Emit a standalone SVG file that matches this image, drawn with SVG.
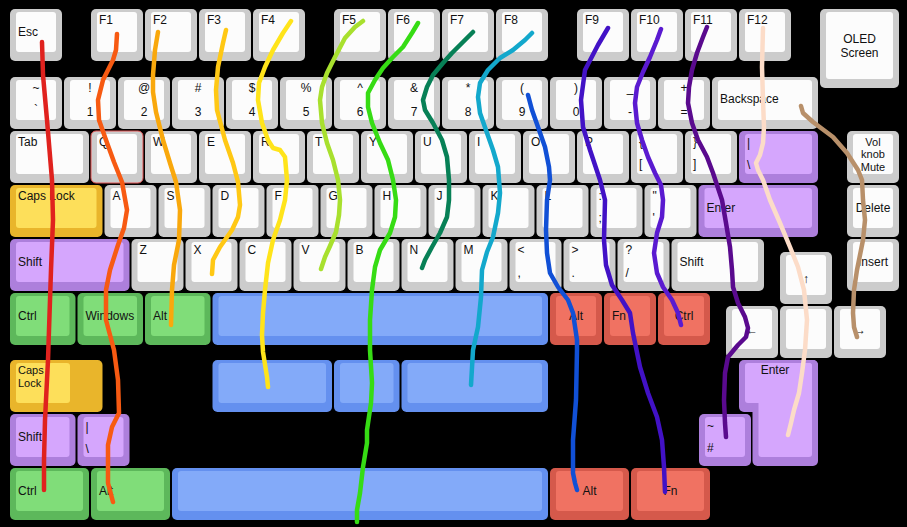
<svg xmlns="http://www.w3.org/2000/svg" width="907" height="527" viewBox="0 0 907 527">
<style>
text{font-family:"Liberation Sans",Arial,sans-serif;font-size:12px;fill:#111}
.c{text-anchor:middle}
.s{font-size:11px}
.o{rx:5px}
.i{rx:3px}
.gy .o{fill:#cccccc}.gy .i{fill:#fcfcfc}
.pu .o{fill:#ad7fdc}.pu .i{fill:#d5a6fd}
.ye .o{fill:#e9b52b}.ye .i{fill:#fddf5a}
.gr .o{fill:#5db85b}.gr .i{fill:#80dd79}
.bl .o{fill:#6490ef}.bl .i{fill:#83aaf9}
.rd .o{fill:#d5594b}.rd .i{fill:#f07262}
.ln{fill:none;stroke-width:4.5;stroke-linecap:round;stroke-linejoin:round}
</style>
<rect width="907" height="527" fill="#000"/>
<g id="keys">
<g id="k-esc" class="gy"><rect class="o" x="10" y="9" width="52" height="52"/><rect class="i" x="16" y="12" width="40" height="40"/><text x="18" y="36">Esc</text></g>
<g id="k-f1" class="gy"><rect class="o" x="91" y="9" width="52" height="52"/><rect class="i" x="97" y="12" width="40" height="40"/><text x="99" y="24">F1</text></g>
<g id="k-f2" class="gy"><rect class="o" x="145" y="9" width="52" height="52"/><rect class="i" x="151" y="12" width="40" height="40"/><text x="153" y="24">F2</text></g>
<g id="k-f3" class="gy"><rect class="o" x="199" y="9" width="52" height="52"/><rect class="i" x="205" y="12" width="40" height="40"/><text x="207" y="24">F3</text></g>
<g id="k-f4" class="gy"><rect class="o" x="253" y="9" width="52" height="52"/><rect class="i" x="259" y="12" width="40" height="40"/><text x="261" y="24">F4</text></g>
<g id="k-f5" class="gy"><rect class="o" x="334" y="9" width="52" height="52"/><rect class="i" x="340" y="12" width="40" height="40"/><text x="342" y="24">F5</text></g>
<g id="k-f6" class="gy"><rect class="o" x="388" y="9" width="52" height="52"/><rect class="i" x="394" y="12" width="40" height="40"/><text x="396" y="24">F6</text></g>
<g id="k-f7" class="gy"><rect class="o" x="442" y="9" width="52" height="52"/><rect class="i" x="448" y="12" width="40" height="40"/><text x="450" y="24">F7</text></g>
<g id="k-f8" class="gy"><rect class="o" x="496" y="9" width="52" height="52"/><rect class="i" x="502" y="12" width="40" height="40"/><text x="504" y="24">F8</text></g>
<g id="k-f9" class="gy"><rect class="o" x="577" y="9" width="52" height="52"/><rect class="i" x="583" y="12" width="40" height="40"/><text x="585" y="24">F9</text></g>
<g id="k-f10" class="gy"><rect class="o" x="631" y="9" width="52" height="52"/><rect class="i" x="637" y="12" width="40" height="40"/><text x="639" y="24">F10</text></g>
<g id="k-f11" class="gy"><rect class="o" x="685" y="9" width="52" height="52"/><rect class="i" x="691" y="12" width="40" height="40"/><text x="693" y="24">F11</text></g>
<g id="k-f12" class="gy"><rect class="o" x="739" y="9" width="52" height="52"/><rect class="i" x="745" y="12" width="40" height="40"/><text x="747" y="24">F12</text></g>
<g id="k-oled" class="gy"><rect class="o" x="820" y="9" width="79" height="79"/><rect class="i" x="826" y="12" width="67" height="67"/><text class="c" x="859.5" y="43">OLED</text><text class="c" x="859.5" y="57">Screen</text></g>

<g id="k-tilde" class="gy"><rect class="o" x="10" y="77" width="52" height="52"/><rect class="i" x="16" y="80" width="40" height="40"/><text class="c" x="36" y="92">~</text><text class="c" x="36" y="114">`</text></g>
<g id="k-1" class="gy"><rect class="o" x="64" y="77" width="52" height="52"/><rect class="i" x="70" y="80" width="40" height="40"/><text class="c" x="90" y="92">!</text><text class="c" x="90" y="116">1</text></g>
<g id="k-2" class="gy"><rect class="o" x="118" y="77" width="52" height="52"/><rect class="i" x="124" y="80" width="40" height="40"/><text class="c" x="144" y="92">@</text><text class="c" x="144" y="116">2</text></g>
<g id="k-3" class="gy"><rect class="o" x="172" y="77" width="52" height="52"/><rect class="i" x="178" y="80" width="40" height="40"/><text class="c" x="198" y="92">#</text><text class="c" x="198" y="116">3</text></g>
<g id="k-4" class="gy"><rect class="o" x="226" y="77" width="52" height="52"/><rect class="i" x="232" y="80" width="40" height="40"/><text class="c" x="252" y="92">$</text><text class="c" x="252" y="116">4</text></g>
<g id="k-5" class="gy"><rect class="o" x="280" y="77" width="52" height="52"/><rect class="i" x="286" y="80" width="40" height="40"/><text class="c" x="306" y="92">%</text><text class="c" x="306" y="116">5</text></g>
<g id="k-6" class="gy"><rect class="o" x="334" y="77" width="52" height="52"/><rect class="i" x="340" y="80" width="40" height="40"/><text class="c" x="360" y="92">^</text><text class="c" x="360" y="116">6</text></g>
<g id="k-7" class="gy"><rect class="o" x="388" y="77" width="52" height="52"/><rect class="i" x="394" y="80" width="40" height="40"/><text class="c" x="414" y="92">&amp;</text><text class="c" x="414" y="116">7</text></g>
<g id="k-8" class="gy"><rect class="o" x="442" y="77" width="52" height="52"/><rect class="i" x="448" y="80" width="40" height="40"/><text class="c" x="468" y="92">*</text><text class="c" x="468" y="116">8</text></g>
<g id="k-9" class="gy"><rect class="o" x="496" y="77" width="52" height="52"/><rect class="i" x="502" y="80" width="40" height="40"/><text class="c" x="522" y="92">(</text><text class="c" x="522" y="116">9</text></g>
<g id="k-0" class="gy"><rect class="o" x="550" y="77" width="52" height="52"/><rect class="i" x="556" y="80" width="40" height="40"/><text class="c" x="576" y="92">)</text><text class="c" x="576" y="116">0</text></g>
<g id="k-minus" class="gy"><rect class="o" x="604" y="77" width="52" height="52"/><rect class="i" x="610" y="80" width="40" height="40"/><text class="c" x="630" y="92">_</text><text class="c" x="630" y="116">-</text></g>
<g id="k-equal" class="gy"><rect class="o" x="658" y="77" width="52" height="52"/><rect class="i" x="664" y="80" width="40" height="40"/><text class="c" x="684" y="92">+</text><text class="c" x="684" y="116">=</text></g>
<g id="k-backspace" class="gy"><rect class="o" x="712" y="77" width="106" height="52"/><rect class="i" x="718" y="80" width="94" height="40"/><text x="720" y="103">Backspace</text></g>

<g id="k-tab" class="gy"><rect class="o" x="10" y="131" width="79" height="52"/><rect class="i" x="16" y="134" width="67" height="40"/><text x="18" y="146">Tab</text></g>
<g id="k-q" class="gy"><rect class="o" x="91" y="131" width="52" height="52" stroke="#e05252" stroke-width="1"/><rect class="i" x="97" y="134" width="40" height="40"/><text x="99" y="146">Q</text></g>
<g id="k-w" class="gy"><rect class="o" x="145" y="131" width="52" height="52"/><rect class="i" x="151" y="134" width="40" height="40"/><text x="153" y="146">W</text></g>
<g id="k-e" class="gy"><rect class="o" x="199" y="131" width="52" height="52"/><rect class="i" x="205" y="134" width="40" height="40"/><text x="207" y="146">E</text></g>
<g id="k-r" class="gy"><rect class="o" x="253" y="131" width="52" height="52"/><rect class="i" x="259" y="134" width="40" height="40"/><text x="261" y="146">R</text></g>
<g id="k-t" class="gy"><rect class="o" x="307" y="131" width="52" height="52"/><rect class="i" x="313" y="134" width="40" height="40"/><text x="315" y="146">T</text></g>
<g id="k-y" class="gy"><rect class="o" x="361" y="131" width="52" height="52"/><rect class="i" x="367" y="134" width="40" height="40"/><text x="369" y="146">Y</text></g>
<g id="k-u" class="gy"><rect class="o" x="415" y="131" width="52" height="52"/><rect class="i" x="421" y="134" width="40" height="40"/><text x="423" y="146">U</text></g>
<g id="k-i" class="gy"><rect class="o" x="469" y="131" width="52" height="52"/><rect class="i" x="475" y="134" width="40" height="40"/><text x="477" y="146">I</text></g>
<g id="k-o" class="gy"><rect class="o" x="523" y="131" width="52" height="52"/><rect class="i" x="529" y="134" width="40" height="40"/><text x="531" y="146">O</text></g>
<g id="k-p" class="gy"><rect class="o" x="577" y="131" width="52" height="52"/><rect class="i" x="583" y="134" width="40" height="40"/><text x="585" y="146">P</text></g>
<g id="k-lbracket" class="gy"><rect class="o" x="631" y="131" width="52" height="52"/><rect class="i" x="637" y="134" width="40" height="40"/><text x="639" y="146">{</text><text x="639" y="168">[</text></g>
<g id="k-rbracket" class="gy"><rect class="o" x="685" y="131" width="52" height="52"/><rect class="i" x="691" y="134" width="40" height="40"/><text x="693" y="146">}</text><text x="693" y="168">]</text></g>
<g id="k-backslash" class="pu"><rect class="o" x="739" y="131" width="79" height="52"/><rect class="i" x="745" y="134" width="67" height="40"/><text x="747" y="147">|</text><text x="747" y="169">\</text></g>
<g id="k-vol" class="gy"><rect class="o" x="847" y="131" width="52" height="52"/><rect class="i" x="853" y="134" width="40" height="40"/><text class="c s" x="873" y="145.5">Vol</text><text class="c s" x="873" y="158.2">knob</text><text class="c s" x="873" y="170.9">Mute</text></g>

<g id="k-caps" class="ye"><rect class="o" x="10" y="185" width="92.5" height="52"/><rect class="i" x="16" y="188" width="80.5" height="40"/><text x="18" y="200">Caps Lock</text></g>
<g id="k-a" class="gy"><rect class="o" x="104.5" y="185" width="52" height="52"/><rect class="i" x="110.5" y="188" width="40" height="40"/><text x="112.5" y="200">A</text></g>
<g id="k-s" class="gy"><rect class="o" x="158.5" y="185" width="52" height="52"/><rect class="i" x="164.5" y="188" width="40" height="40"/><text x="166.5" y="200">S</text></g>
<g id="k-d" class="gy"><rect class="o" x="212.5" y="185" width="52" height="52"/><rect class="i" x="218.5" y="188" width="40" height="40"/><text x="220.5" y="200">D</text></g>
<g id="k-f" class="gy"><rect class="o" x="266.5" y="185" width="52" height="52"/><rect class="i" x="272.5" y="188" width="40" height="40"/><text x="274.5" y="200">F</text></g>
<g id="k-g" class="gy"><rect class="o" x="320.5" y="185" width="52" height="52"/><rect class="i" x="326.5" y="188" width="40" height="40"/><text x="328.5" y="200">G</text></g>
<g id="k-h" class="gy"><rect class="o" x="374.5" y="185" width="52" height="52"/><rect class="i" x="380.5" y="188" width="40" height="40"/><text x="382.5" y="200">H</text></g>
<g id="k-j" class="gy"><rect class="o" x="428.5" y="185" width="52" height="52"/><rect class="i" x="434.5" y="188" width="40" height="40"/><text x="436.5" y="200">J</text></g>
<g id="k-k" class="gy"><rect class="o" x="482.5" y="185" width="52" height="52"/><rect class="i" x="488.5" y="188" width="40" height="40"/><text x="490.5" y="200">K</text></g>
<g id="k-l" class="gy"><rect class="o" x="536.5" y="185" width="52" height="52"/><rect class="i" x="542.5" y="188" width="40" height="40"/><text x="544.5" y="200">L</text></g>
<g id="k-semicolon" class="gy"><rect class="o" x="590.5" y="185" width="52" height="52"/><rect class="i" x="596.5" y="188" width="40" height="40"/><text x="598.5" y="200">:</text><text x="598.5" y="222">;</text></g>
<g id="k-quote" class="gy"><rect class="o" x="644.5" y="185" width="52" height="52"/><rect class="i" x="650.5" y="188" width="40" height="40"/><text x="652.5" y="200">"</text><text x="652.5" y="222">'</text></g>
<g id="k-enter" class="pu"><rect class="o" x="698.5" y="185" width="119.5" height="52"/><rect class="i" x="704.5" y="188" width="107.5" height="40"/><text x="706.5" y="212">Enter</text></g>
<g id="k-delete" class="gy"><rect class="o" x="847" y="185" width="52" height="52"/><rect class="i" x="853" y="188" width="40" height="40"/><text class="c" x="873" y="212">Delete</text></g>

<g id="k-lshift" class="pu"><rect class="o" x="10" y="239" width="119.5" height="52"/><rect class="i" x="16" y="242" width="107.5" height="40"/><text x="18" y="266">Shift</text></g>
<g id="k-z" class="gy"><rect class="o" x="131.5" y="239" width="52" height="52"/><rect class="i" x="137.5" y="242" width="40" height="40"/><text x="139.5" y="254">Z</text></g>
<g id="k-x" class="gy"><rect class="o" x="185.5" y="239" width="52" height="52"/><rect class="i" x="191.5" y="242" width="40" height="40"/><text x="193.5" y="254">X</text></g>
<g id="k-c" class="gy"><rect class="o" x="239.5" y="239" width="52" height="52"/><rect class="i" x="245.5" y="242" width="40" height="40"/><text x="247.5" y="254">C</text></g>
<g id="k-v" class="gy"><rect class="o" x="293.5" y="239" width="52" height="52"/><rect class="i" x="299.5" y="242" width="40" height="40"/><text x="301.5" y="254">V</text></g>
<g id="k-b" class="gy"><rect class="o" x="347.5" y="239" width="52" height="52"/><rect class="i" x="353.5" y="242" width="40" height="40"/><text x="355.5" y="254">B</text></g>
<g id="k-n" class="gy"><rect class="o" x="401.5" y="239" width="52" height="52"/><rect class="i" x="407.5" y="242" width="40" height="40"/><text x="409.5" y="254">N</text></g>
<g id="k-m" class="gy"><rect class="o" x="455.5" y="239" width="52" height="52"/><rect class="i" x="461.5" y="242" width="40" height="40"/><text x="463.5" y="254">M</text></g>
<g id="k-comma" class="gy"><rect class="o" x="509.5" y="239" width="52" height="52"/><rect class="i" x="515.5" y="242" width="40" height="40"/><text x="517.5" y="254">&lt;</text><text x="517.5" y="277">,</text></g>
<g id="k-period" class="gy"><rect class="o" x="563.5" y="239" width="52" height="52"/><rect class="i" x="569.5" y="242" width="40" height="40"/><text x="571.5" y="254">&gt;</text><text x="571.5" y="277">.</text></g>
<g id="k-slash" class="gy"><rect class="o" x="617.5" y="239" width="52" height="52"/><rect class="i" x="623.5" y="242" width="40" height="40"/><text x="625.5" y="254">?</text><text x="625.5" y="277">/</text></g>
<g id="k-rshift" class="gy"><rect class="o" x="671.5" y="239" width="92.5" height="52"/><rect class="i" x="677.5" y="242" width="80.5" height="40"/><text x="679.5" y="266">Shift</text></g>
<g id="k-up" class="gy"><rect class="o" x="780" y="252" width="52" height="52"/><rect class="i" x="786" y="255" width="40" height="40"/><text class="c" x="806" y="283">↑</text></g>
<g id="k-insert" class="gy"><rect class="o" x="847" y="239" width="52" height="52"/><rect class="i" x="853" y="242" width="40" height="40"/><text class="c" x="873" y="266">Insert</text></g>

<g id="k-lctrl" class="gr"><rect class="o" x="10" y="293" width="65.5" height="52"/><rect class="i" x="16" y="296" width="53.5" height="40"/><text x="18" y="320">Ctrl</text></g>
<g id="k-win" class="gr"><rect class="o" x="77.5" y="293" width="65.5" height="52"/><rect class="i" x="83.5" y="296" width="53.5" height="40"/><text x="85.5" y="320">Windows</text></g>
<g id="k-lalt" class="gr"><rect class="o" x="145" y="293" width="65.5" height="52"/><rect class="i" x="151" y="296" width="53.5" height="40"/><text x="153" y="320">Alt</text></g>
<g id="k-space" class="bl"><rect class="o" x="212.5" y="293" width="335.5" height="52"/><rect class="i" x="218.5" y="296" width="323.5" height="40"/></g>
<g id="k-ralt" class="rd"><rect class="o" x="550" y="293" width="52" height="52"/><rect class="i" x="556" y="296" width="40" height="40"/><text class="c" x="576" y="320">Alt</text></g>
<g id="k-fn" class="rd"><rect class="o" x="604" y="293" width="52" height="52"/><rect class="i" x="610" y="296" width="40" height="40"/><text x="612" y="320">Fn</text></g>
<g id="k-rctrl" class="rd"><rect class="o" x="658" y="293" width="52" height="52"/><rect class="i" x="664" y="296" width="40" height="40"/><text class="c" x="684" y="320">Ctrl</text></g>
<g id="k-left" class="gy"><rect class="o" x="726" y="306" width="52" height="52"/><rect class="i" x="732" y="309" width="40" height="40"/><text class="c" x="752" y="334">←</text></g>
<g id="k-down" class="gy"><rect class="o" x="780" y="306" width="52" height="52"/><rect class="i" x="786" y="309" width="40" height="40"/><text class="c" x="806" y="334">↓</text></g>
<g id="k-right" class="gy"><rect class="o" x="834" y="306" width="52" height="52"/><rect class="i" x="840" y="309" width="40" height="40"/><text class="c" x="860" y="334">→</text></g>

<g id="k-caps2" class="ye"><rect class="o" x="10" y="360" width="92.5" height="52"/><rect class="i" x="16" y="363" width="54" height="40"/><text class="s" x="18" y="374">Caps</text><text class="s" x="18" y="386.7">Lock</text></g>
<g id="k-space2a" class="bl"><rect class="o" x="212.5" y="360" width="119.5" height="52"/><rect class="i" x="218.5" y="363" width="107.5" height="40"/></g>
<g id="k-space2b" class="bl"><rect class="o" x="334" y="360" width="65.5" height="52"/><rect class="i" x="340" y="363" width="53.5" height="40"/></g>
<g id="k-space2c" class="bl"><rect class="o" x="401.5" y="360" width="146.5" height="52"/><rect class="i" x="407.5" y="363" width="134.5" height="40"/></g>
<g id="k-isoenter" class="pu"><rect class="o" x="739" y="360" width="79" height="52"/><rect class="o" x="752.5" y="360" width="65.5" height="106"/><rect class="i" x="745" y="363" width="67" height="40"/><rect class="i" x="758.5" y="363" width="53.5" height="94"/><text class="c" x="775" y="374">Enter</text></g>
<g id="k-lshift2" class="pu"><rect class="o" x="10" y="414" width="65.5" height="52"/><rect class="i" x="16" y="417" width="53.5" height="40"/><text x="18" y="441">Shift</text></g>
<g id="k-iso-bslash" class="pu"><rect class="o" x="77.5" y="414" width="52" height="52"/><rect class="i" x="83.5" y="417" width="40" height="40"/><text x="85.5" y="431">|</text><text x="85.5" y="453">\</text></g>
<g id="k-hash" class="pu"><rect class="o" x="699" y="414" width="52" height="52"/><rect class="i" x="705" y="417" width="40" height="40"/><text x="707" y="430">~</text><text x="707" y="452">#</text></g>
<g id="k-lctrl2" class="gr"><rect class="o" x="10" y="468" width="79" height="52"/><rect class="i" x="16" y="471" width="67" height="40"/><text x="18" y="495">Ctrl</text></g>
<g id="k-lalt2" class="gr"><rect class="o" x="91" y="468" width="79" height="52"/><rect class="i" x="97" y="471" width="67" height="40"/><text x="99" y="495">Alt</text></g>
<g id="k-space3" class="bl"><rect class="o" x="172" y="468" width="376" height="52"/><rect class="i" x="178" y="471" width="364" height="40"/></g>
<g id="k-ralt2" class="rd"><rect class="o" x="550" y="468" width="79" height="52"/><rect class="i" x="556" y="471" width="67" height="40"/><text class="c" x="589.5" y="495">Alt</text></g>
<g id="k-fn2" class="rd"><rect class="o" x="631" y="468" width="79" height="52"/><rect class="i" x="637" y="471" width="67" height="40"/><text class="c" x="670.5" y="495">Fn</text></g>
</g>
<g id="connectors">
<polyline class="ln" stroke="#e0221e" points="42,42 43,75 47,120 52,180 53,220 51,270 49,330 48,360 45,420 44,460 44,490"/>
<polyline class="ln" stroke="#f75a12" points="117,34 116,50 113,60 103,80 98,100 99,120 106,140 114,162 122,182 127,210 124,228 118,245 110,270 106,290 106,320 110,335 114,350 118,380 119,413 112,427 108,445 108,483 113,502"/>
<polyline class="ln" stroke="#f9a80c" points="158,32 155,50 153,75 153,92 156,112 163,140 170,163 176,182 180,210 179,240 174,265 172,290 171,325"/>
<polyline class="ln" stroke="#ffc814" points="226,30 223,43 218,67 216,90 217,110 225,140 233,163 238,182 240,205 238,217 232,230 220,247 213,260 212,274"/>
<polyline class="ln" stroke="#ffe41a" points="291,21 283,33 273,50 265,67 259,83 258,100 262,123 268,140 273,148 280,150 285,157 287,180 285,200 280,220 273,240 268,263 265,290 263,313 262,335 263,352 267,377 268,387"/>
<polyline class="ln" stroke="#a8e02e" points="363,21 355,27 345,38 335,57 327,73 322,87 320,100 322,123 327,143 333,160 338,180 340,200 339,215 336,232 330,246 325,257 321,269"/>
<polyline class="ln" stroke="#36dc14" points="418,23 412,33 403,47 393,57 383,68 375,80 368,93 368,107 372,123 380,143 388,160 393,180 396,200 395,217 390,233 380,250 375,267 372,290 370,320 370,350 372,383 371,403 367,430 367,443 363,467 360,493 357,510 357,522"/>
<polyline class="ln" stroke="#078056" points="473,32 463,42 452,53 443,63 433,75 427,87 423,100 425,110 433,123 442,140 447,157 449,180 449,200 447,217 440,233 432,247 425,260 422,268"/>
<polyline class="ln" stroke="#13a8cc" points="532,33 525,40 513,50 500,58 488,70 480,83 478,97 480,113 487,133 493,150 498,167 499,180 500,193 498,213 493,237 487,252 482,270 481,297 478,327 473,350 471,385"/>
<polyline class="ln" stroke="#1150d6" points="528,95 532,110 538,127 545,147 549,167 550,180 547,200 546,230 547,253 550,273 558,287 568,300 573,313 577,340 577,350 576,400 573,440 573,473 575,483 577,490"/>
<polyline class="ln" stroke="#4212c6" points="608,28 598,45 585,70 581,100 583,127 590,150 600,180 605,200 604,240 606,265 612,285 622,300 630,313 633,333 640,367 648,393 657,417 662,440 664,467 665,492"/>
<polyline class="ln" stroke="#5a1ad0" points="661,29 657,40 650,57 643,72 637,87 635,103 637,123 642,140 648,157 655,173 661,185 663,200 662,217 657,233 654,253 657,273 663,287 672,300 678,313 681,325"/>
<polyline class="ln" stroke="#5a0a8e" points="707,27 703,37 697,53 692,70 689,87 688,103 692,123 698,140 707,157 713,173 717,185 722,200 726,223 730,247 732,270 733,287 738,303 745,317 748,328 746,337 738,345 728,357 725,373 724,400 725,423 726,437"/>
<polyline class="ln" stroke="#fcdcc8" points="763,28 762,67 763,100 764,127 763,143 760,155 756,163 758,170 763,180 770,200 780,223 790,247 798,267 804,290 807,320 805,350 802,373 799,393 794,410 791,423 788,435"/>
<polyline class="ln" stroke="#b8906a" points="801,106 803,113 813,122 833,137 847,153 858,170 862,180 863,200 865,220 863,240 857,270 854,290 853,313 854,327 857,337"/>
</g>
</svg>
